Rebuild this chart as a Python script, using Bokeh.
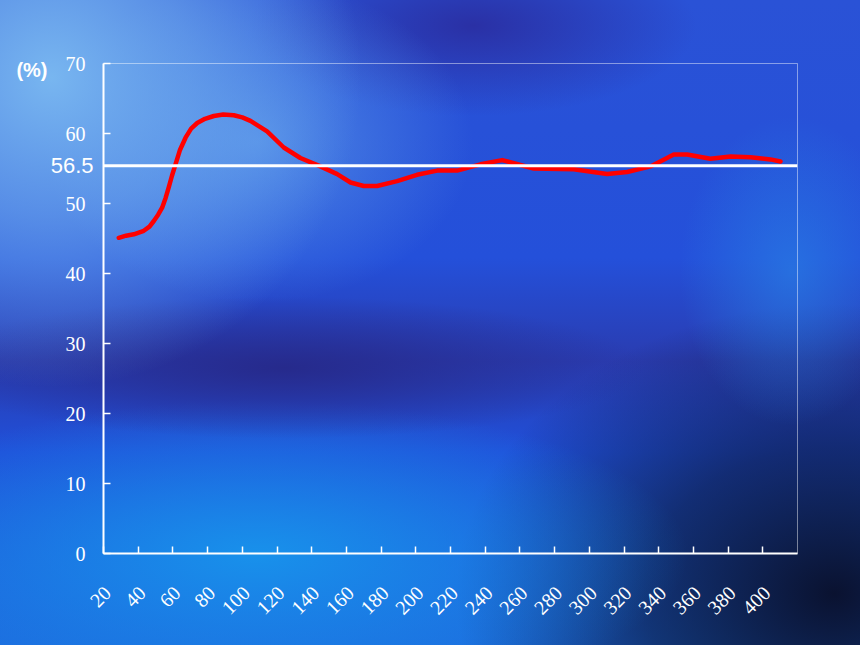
import math
from bokeh.plotting import figure
from bokeh.models import (FixedTicker, Span, InlineStyleSheet, GlobalInlineStyleSheet, Range1d,
                          LinearAxis, CustomLabelingPolicy)
from bokeh.embed import file_html
from bokeh.resources import INLINE

# ---- data ----
x_vals = [28.8, 33.0, 37.5, 43.2, 46.5, 49.0, 51.5, 53.8, 55.8, 57.6, 59.5, 61.5,
          64.0, 67.3, 70.5, 74.0, 78.5, 83.6, 89.0, 95.1, 100.0, 104.7,
          114.3, 123.9, 133.5, 145.0, 154.7, 162.4, 170.0, 177.7, 189.2, 200.7,
          212.3, 223.8, 237.3, 249.8, 260.3, 268.0, 291.0, 310.3, 321.8, 335.3,
          348.7, 356.4, 369.8, 381.4, 392.9, 404.4, 410.2]
y_vals = [45.1, 45.4, 45.6, 46.1, 46.7, 47.5, 48.4, 49.4, 50.8, 52.3, 54.0, 55.6,
          57.6, 59.4, 60.7, 61.5, 62.1, 62.5, 62.7, 62.6, 62.3, 61.8,
          60.3, 58.0, 56.5, 55.3, 54.2, 53.0, 52.5, 52.5, 53.2, 54.1,
          54.7, 54.7, 55.6, 56.2, 55.5, 55.0, 54.9, 54.2, 54.5, 55.3,
          57.0, 57.0, 56.4, 56.7, 56.6, 56.3, 56.0]
ref_level = 55.4
ref_label = "56.5"
x_ticks = list(range(20, 420, 20))
y_ticks = [0, 10, 20, 30, 40, 50, 60, 70]
unit_label = "(%)"
unit_pos = 69.1

p = figure(width=860, height=645, output_backend="svg", toolbar_location=None,
           x_range=(20, 420), y_range=(0, 70),
           min_border_left=103, min_border_right=63, min_border_top=63, min_border_bottom=92)
p.frame_width = 694
p.frame_height = 490

p.background_fill_color = None
p.border_fill_color = None
p.outline_line_color = "white"
p.outline_line_alpha = 0.45
p.outline_line_width = 1
p.stylesheets = [
    GlobalInlineStyleSheet(css="html, body { margin: 0; padding: 0; overflow: hidden; background: #1d4fc8; }"),
    InlineStyleSheet(css="""
:host {
  background:
    radial-gradient(ellipse 36% 48% at 6% 12%, rgba(120,182,240,1) 0%, rgba(120,182,240,0.6) 45%, rgba(120,182,240,0) 100%),
    radial-gradient(ellipse 25% 25% at 30% 22%, rgba(85,145,232,0.85) 0%, rgba(85,145,232,0) 100%),
    radial-gradient(ellipse 26% 14% at 55% 4%, rgba(42,48,165,1) 0%, rgba(42,48,165,0) 100%),
    radial-gradient(ellipse 42% 11% at 33% 57%, rgba(38,42,140,1) 0%, rgba(38,42,140,0) 100%),
    radial-gradient(ellipse 13% 24% at 92% 42%, rgba(40,125,228,0.7) 0%, rgba(40,125,228,0) 100%),
    radial-gradient(ellipse 50% 24% at 30% 86%, rgba(24,145,235,1) 0%, rgba(24,145,235,0.5) 50%, rgba(24,145,235,0) 100%),
    radial-gradient(ellipse 44% 45% at 97% 92%, rgba(10,18,48,1) 0%, rgba(10,18,48,0.6) 50%, rgba(10,18,48,0) 100%),
    linear-gradient(to bottom, #2a52d6 0%, #2450da 40%, #2a3cb0 56%, #2050da 70%, #1d6ade 100%);
}
"""),
]

p.xgrid.visible = False
p.ygrid.visible = False

for ax in (p.xaxis[0], p.yaxis[0]):
    ax.axis_line_color = "white"
    ax.axis_line_width = 2
    ax.major_tick_line_color = "white"
    ax.major_tick_line_width = 1.5
    ax.major_tick_in = 7
    ax.major_tick_out = 0
    ax.minor_tick_line_color = None
    ax.major_label_text_color = "white"
    ax.major_label_text_font = "Liberation Serif"

# main x axis: line and ticks only (labels come from the nudged axis below)
p.xaxis.ticker = FixedTicker(ticks=x_ticks)
p.xaxis.major_label_standoff = 0
p.xaxis.major_label_policy = CustomLabelingPolicy(code="""
for (const i of indices) indices.unset(i)
return indices
""")

p.extra_x_ranges = {"xlab": Range1d(20 - 2.3, 420 - 2.3)}
xlab = LinearAxis(x_range_name="xlab", ticker=FixedTicker(ticks=x_ticks),
                  axis_line_color=None, major_tick_line_color=None, minor_tick_line_color=None,
                  major_label_orientation=math.pi / 4, major_label_text_color="white",
                  major_label_text_font="Liberation Serif", major_label_text_font_size="20px",
                  major_label_standoff=20)
p.add_layout(xlab, "below")

p.yaxis.ticker = FixedTicker(ticks=y_ticks)
p.yaxis.major_label_text_font_size = "20px"
p.yaxis.major_label_standoff = 18

# "56.5" marker text next to the reference line
ref_axis = LinearAxis(ticker=FixedTicker(ticks=[ref_level]),
                      major_label_overrides={ref_level: ref_label},
                      axis_line_color=None, major_tick_line_color=None, minor_tick_line_color=None,
                      major_label_text_color="white", major_label_text_font="Liberation Sans",
                      major_label_text_font_size="22px", major_label_standoff=-37)
p.add_layout(ref_axis, "left")

# "(%)" unit text
unit_axis = LinearAxis(ticker=FixedTicker(ticks=[unit_pos]),
                       major_label_overrides={unit_pos: unit_label},
                       axis_line_color=None, major_tick_line_color=None, minor_tick_line_color=None,
                       major_label_text_color="white", major_label_text_font="Liberation Sans",
                       major_label_text_font_size="20px", major_label_text_font_style="bold",
                       major_label_standoff=-6)
p.add_layout(unit_axis, "left")

p.add_layout(Span(location=ref_level, dimension="width", line_color="white", line_width=3))
p.line(x_vals, y_vals, line_color="#ff0000", line_width=4.5, line_join="round", line_cap="round")

open("out.html", "w").write(file_html(p, INLINE))
